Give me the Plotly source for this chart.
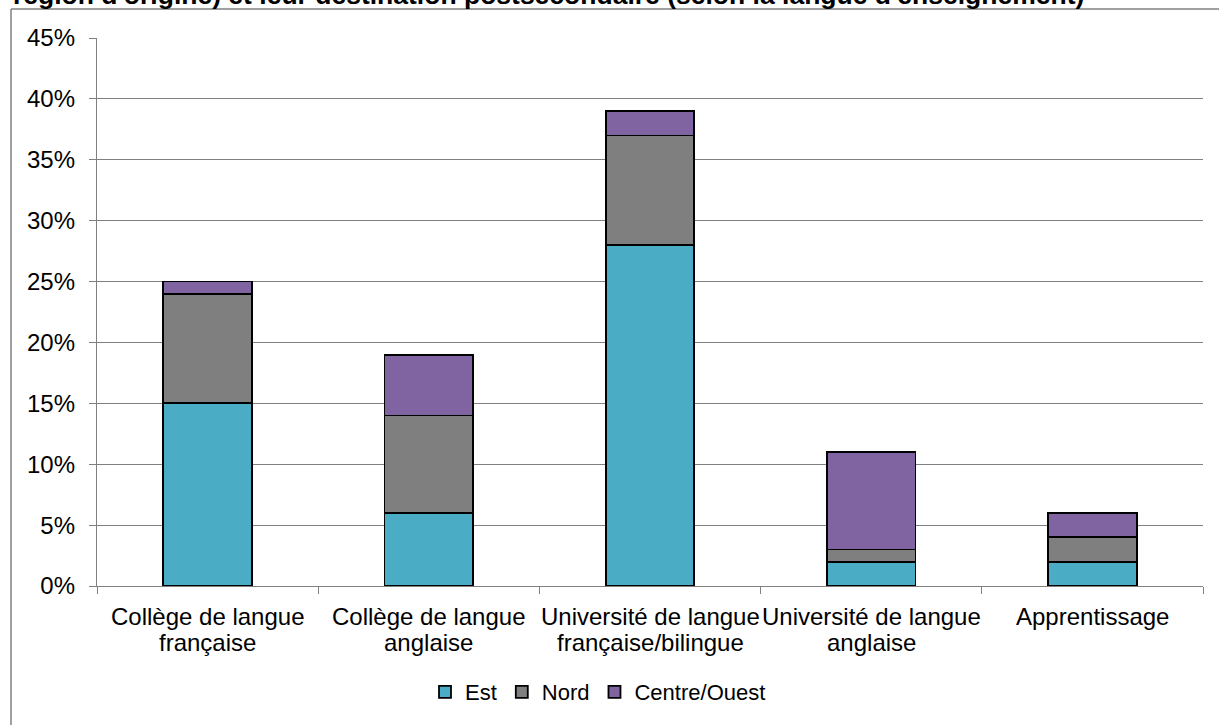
import plotly.graph_objects as go

# Destination postsecondaire (selon la langue d'enseignement), en %
categories = [
    ("Collège de langue", "française"),
    ("Collège de langue", "anglaise"),
    ("Université de langue", "française/bilingue"),
    ("Université de langue", "anglaise"),
    ("Apprentissage", ""),
]
est = [15, 6, 28, 2, 2]
nord = [9, 8, 9, 1, 2]
centre_ouest = [1, 5, 2, 8, 2]

series_names = ["Est", "Nord", "Centre/Ouest"]
series_colors = ["#4BACC6", "#7F7F7F", "#8064A2"]

title_text = ("région d'origine) et leur destination postsecondaire "
              "(selon la langue d'enseignement)")

# plot area in pixels
W, H = 1219, 725
L, R, T, B = 97, 16, 38, 139
PW, PH = W - L - R, H - T - B


def px_x(x):
    return (x - L) / PW


def px_y(y):
    return (H - B - y) / PH


cat_keys = [" ".join(c).strip() for c in categories]

fig = go.Figure()
for name, vals, col in zip(series_names, [est, nord, centre_ouest], series_colors):
    fig.add_trace(go.Bar(
        x=cat_keys, y=vals, name=name,
        marker=dict(color=col, line=dict(color="#000000", width=1.8)),
    ))

font_family = "Liberation Sans, Arial, sans-serif"
grid_col = "#808080"
label_size = 24
legend_size = 22

fig.update_layout(
    width=W, height=H,
    margin=dict(l=L, r=R, t=T, b=B),
    barmode="stack", bargap=0.6,
    paper_bgcolor="white", plot_bgcolor="white",
    font=dict(family=font_family, size=label_size, color="#000000"),
    showlegend=True,
    legend=dict(orientation="h", x=px_x(598), xanchor="center",
                y=px_y(692), yanchor="middle",
                font=dict(size=legend_size), itemwidth=30,
                traceorder="normal"),
    xaxis=dict(
        showline=True, linecolor=grid_col, linewidth=1.4,
        ticks="outside", tickson="boundaries", ticklen=7,
        tickcolor=grid_col, tickwidth=1.4,
        showgrid=False, showticklabels=False,
    ),
    yaxis=dict(
        range=[0, 45], dtick=5, ticksuffix="%",
        showline=True, linecolor=grid_col, linewidth=1.4,
        ticks="outside", ticklen=7, tickcolor=grid_col, tickwidth=1.4,
        showgrid=True, gridcolor=grid_col, gridwidth=1.4,
        zeroline=False, tickfont=dict(size=label_size), ticklabelstandoff=9,
    ),
)

# category labels, two lines each with tight line spacing
for key, (line1, line2) in zip(cat_keys, categories):
    for text, ypx in ((line1, 616), (line2, 642)):
        if text:
            fig.add_annotation(text=text, x=key, xref="x", y=px_y(ypx), yref="paper",
                               xanchor="center", yanchor="middle", showarrow=False,
                               font=dict(size=label_size, family=font_family))

# chart frame (left and top edges)
fig.add_shape(type="line", xref="paper", yref="paper",
              x0=px_x(11), x1=px_x(11), y0=px_y(9), y1=px_y(760),
              line=dict(color=grid_col, width=1.5))
fig.add_shape(type="line", xref="paper", yref="paper",
              x0=px_x(11), x1=px_x(1260), y0=px_y(9), y1=px_y(9),
              line=dict(color=grid_col, width=1.5))

# title (second line, partially above the page)
fig.add_annotation(text="<b>" + title_text + "</b>", xref="paper", yref="paper",
                   x=px_x(11), y=px_y(-5), xanchor="left", yanchor="middle",
                   showarrow=False, font=dict(size=26.5, family=font_family))

fig.write_html("out.html")
